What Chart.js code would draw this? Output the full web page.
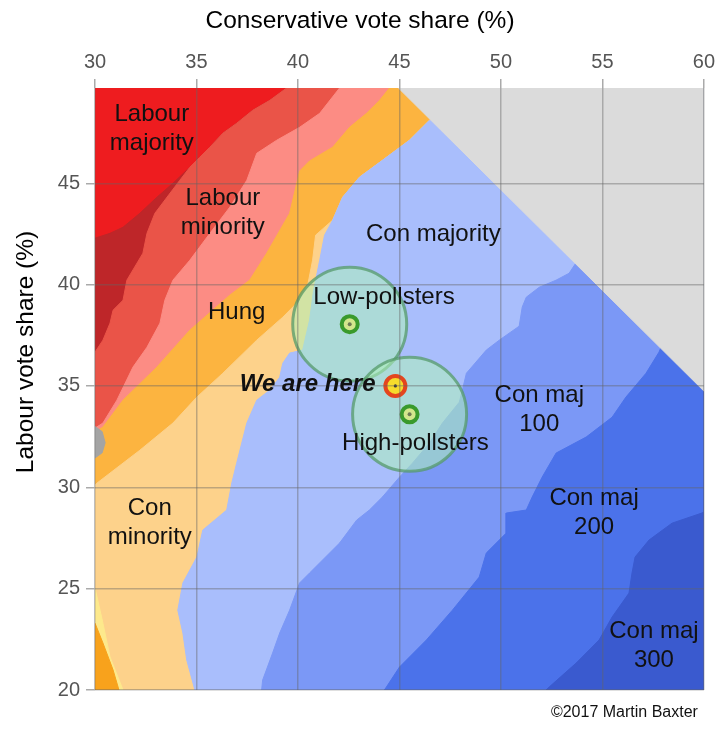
<!DOCTYPE html>
<html><head><meta charset="utf-8">
<script src="https://cdn.jsdelivr.net/npm/chart.js@4/dist/chart.umd.min.js"></script>
<style>html,body{margin:0;padding:0;background:#fff}#wrap{width:720px;height:729px;position:relative}</style>
</head><body><div id="wrap"><canvas id="c"></canvas></div>
<script>
const FONT = "'Liberation Sans', Arial, sans-serif";
const X_MIN = 30, X_MAX = 60, Y_MIN = 20, Y_MAX = 49.7;
const xTicks = [30, 35, 40, 45, 50, 55, 60];
const yTicks = [20, 25, 30, 35, 40, 45];

// Region boundaries: [Con %, Lab %]
const labMajEdge = [[39.44,49.7],[38.61,49.09],[37.77,48.60],[36.98,47.96],[36.30,47.47],[35.66,46.78],[35.16,46.28],[34.67,45.79],[33.84,45.00],[33.05,44.31],[32.21,43.52],[31.38,42.83],[30.74,42.53],[30,42.29]];
const darkRedEdge = [[39.44,49.7],[38.61,49.09],[37.77,48.60],[36.98,47.96],[36.30,47.47],[35.66,46.78],[35.16,46.28],[34.67,45.79],[34.18,45.15],[32.95,43.52],[32.56,42.53],[32.36,41.55],[31.57,40.22],[31.38,39.23],[30.89,38.74],[30.74,38.10],[30.39,37.26],[30,36.67]];
const coralEdge = [[42.05,49.7],[41.07,48.45],[40.08,47.76],[38.95,47.12],[37.97,46.48],[37.48,45.15],[36.64,43.82],[35.66,42.53],[34.67,41.20],[33.84,40.22],[33.44,39.23],[33.20,38.10],[32.56,36.91],[31.87,35.93],[31.08,34.30],[30.39,33.17],[30,32.92]];
const pinkEdge = [[44.51,49.7],[44.02,49.09],[43.38,48.45],[42.54,47.76],[41.71,46.78],[40.57,46.10],[40.08,45.60],[39.59,43.52],[38.46,41.55],[37.62,40.22],[36.64,39.48],[34.67,37.75],[33.05,35.93],[31.38,34.30],[30.39,32.97],[30,32.72]];
const hungEdge = [[46.48,48.11],[45.49,47.12],[44.16,46.13],[43.03,45.30],[42.20,44.31],[41.71,43.18],[40.87,42.44],[40.72,41.20],[40.48,39.97],[40.08,39.23],[39.25,38.39],[37.97,37.26],[36.30,35.63],[35.02,34.45],[33.84,33.17],[32.21,31.83],[30.10,30.21],[30,30.11]];
const conMinEdge = [[46.48,48.11],[45.49,47.12],[44.16,46.13],[43.03,45.30],[42.20,44.31],[41.71,43.18],[41.31,42.44],[41.07,41.20],[40.77,39.72],[40.57,38.24],[40.23,36.77],[39.59,36.62],[39.25,36.12],[39.10,35.43],[38.61,34.79],[37.97,34.30],[37.48,33.17],[37.23,32.18],[36.98,31.19],[36.74,30.21],[36.49,28.88],[35.31,27.89],[35.02,26.56],[34.33,25.28],[34.08,23.94],[34.33,22.81],[34.52,21.48],[34.92,20]];
const conMajEdge = [[53.85,41.30],[53.36,40.56],[52.72,40.22],[51.89,39.87],[51.25,39.38],[51.05,38.89],[50.90,37.95],[49.92,37.26],[49.28,36.77],[48.30,35.63],[48.10,34.79],[47.95,34.20],[47.12,33.17],[46.48,32.18],[45.64,31.19],[45.00,30.50],[44.16,29.52],[43.52,28.88],[42.89,28.38],[42.05,27.25],[40.57,25.77],[40.08,25.28],[39.59,23.94],[39.10,22.81],[38.75,21.82],[38.26,20.49],[38.21,20]];
const maj100Edge = [[58.03,37.26],[57.79,36.67],[57.15,35.63],[56.16,34.45],[55.48,33.46],[54.20,32.48],[52.72,31.69],[52.03,30.50],[51.54,29.52],[51.25,28.88],[50.26,28.73],[50.26,27.74],[49.28,26.76],[48.93,25.57],[47.61,23.94],[46.33,22.47],[45.00,21.13],[44.36,20.15],[44.26,20]];
const maj200Edge = [[60,28.78],[59.90,28.73],[58.43,28.23],[57.30,27.40],[56.61,26.56],[56.46,25.77],[56.31,24.78],[55.48,23.60],[54.84,22.47],[53.71,21.33],[52.38,20.15],[52.23,20]];
const yellowEdge = [[30,25.03],[30.39,23.30],[30.74,21.63],[31.38,20]];
const ldOrangeEdge = [[30,23.30],[30.39,22.32],[30.89,20.99],[31.18,20]];
const greyBlob = [[30,33.0],[30.35,32.75],[30.5,32.2],[30.35,31.7],[30,31.45]];
const impossibleEdge = [[44.95,49.7],[60,34.75]];

// Poll points
const pollsterNames = ['Low-pollsters', 'High-pollsters'];
const pollsterCon = [42.55, 45.5];
const pollsterLab = [38.05, 33.6];
const hereCon = [44.8];
const hereLab = [35.0];

const regionColors = {
  labMaj: '#ee1c1f', darkRed: '#be2629', coral: '#ea5448', pink: '#fc8c84', hung: '#fcb440',
  conMin: '#fdd28b', conMaj: '#a9befc', maj100: '#7b98f6', maj200: '#4b72ea', maj300: '#3a5acf',
  yellow: '#fde98c', dOrange: '#f8a21c', grey: '#a4a4a4', impossible: '#dbdbdb'
};

const toPts = e => e.map(([x, y]) => ({x, y}));
function lowerRight(edge) {
  const pts = toPts(edge);
  if (edge[edge.length - 1][0] === X_MIN) pts.push({x: X_MIN, y: Y_MIN});
  pts.push({x: X_MAX, y: Y_MIN}, {x: X_MAX, y: Y_MAX});
  return pts;
}
function lowerLeft(edge) { return toPts(edge).concat([{x: X_MIN, y: Y_MIN}]); }

const layers = [
  [regionColors.labMaj, [{x: X_MIN, y: Y_MIN}, {x: X_MIN, y: Y_MAX}, {x: X_MAX, y: Y_MAX}, {x: X_MAX, y: Y_MIN}]],
  [regionColors.darkRed, lowerRight(labMajEdge)],
  [regionColors.coral, lowerRight(darkRedEdge)],
  [regionColors.pink, lowerRight(coralEdge)],
  [regionColors.hung, lowerRight(pinkEdge)],
  [regionColors.conMin, lowerRight(hungEdge)],
  [regionColors.conMaj, lowerRight(conMinEdge)],
  [regionColors.maj100, lowerRight(conMajEdge)],
  [regionColors.maj200, lowerRight(maj100Edge)],
  [regionColors.maj300, lowerRight(maj200Edge)],
  [regionColors.yellow, lowerLeft(yellowEdge)],
  [regionColors.dOrange, lowerLeft(ldOrangeEdge)],
  [regionColors.grey, toPts(greyBlob)],
  [regionColors.impossible, toPts(impossibleEdge).concat([{x: X_MAX, y: Y_MAX}])]
];

const datasets = layers.map(([color, pts], i) => ({
  data: pts, showLine: true, fill: 'shape', backgroundColor: color, borderColor: color,
  borderWidth: 1, pointRadius: 0, tension: 0, order: 100 - i
}));
const pollPts = pollsterCon.map((x, i) => ({x, y: pollsterLab[i]}));
const herePts = hereCon.map((x, i) => ({x, y: hereLab[i]}));
datasets.push({data: pollPts, showLine: false, pointRadius: 57,
  pointBackgroundColor: 'rgba(175,240,185,0.55)', pointBorderColor: 'rgba(85,155,105,0.75)', pointBorderWidth: 3, order: 10});
datasets.push({data: pollPts, showLine: false, pointRadius: 8,
  pointBackgroundColor: '#d3e68c', pointBorderColor: '#3a9a2c', pointBorderWidth: 4, order: 8});
datasets.push({data: pollPts, showLine: false, pointRadius: 2,
  pointBackgroundColor: '#6f7a55', pointBorderWidth: 0, order: 7});
datasets.push({data: herePts, showLine: false, pointRadius: 10,
  pointBackgroundColor: '#f6dc2c', pointBorderColor: '#e4451e', pointBorderWidth: 4, order: 6});
datasets.push({data: herePts, showLine: false, pointRadius: 1.6,
  pointBackgroundColor: '#333', pointBorderWidth: 0, order: 5});

const annotations = [
  {lines: ['Labour', 'majority'], x: 32.80, y: 47.66},
  {lines: ['Labour', 'minority'], x: 36.30, y: 43.52},
  {lines: ['Hung'], x: 36.98, y: 38.64},
  {lines: ['Con majority'], x: 46.67, y: 42.49},
  {lines: [pollsterNames[0]], x: 44.24, y: 39.38},
  {lines: ['We are here'], x: 43.82, y: 35.09, align: 'right', style: 'italic bold '},
  {lines: [pollsterNames[1]], x: 45.79, y: 32.18},
  {lines: ['Con maj', '100'], x: 51.89, y: 33.83},
  {lines: ['Con', 'minority'], x: 32.70, y: 28.26},
  {lines: ['Con maj', '200'], x: 54.59, y: 28.73},
  {lines: ['Con maj', '300'], x: 57.54, y: 22.19}
];

const labelPlugin = {
  id: 'labels',
  afterDraw(chart) {
    const {ctx, scales: {x, y}, chartArea} = chart;
    ctx.save();
    ctx.fillStyle = '#111';
    ctx.textBaseline = 'middle';
    const lh = 29;
    for (const a of annotations) {
      ctx.font = (a.style || '') + '24px ' + FONT;
      ctx.textAlign = a.align || 'center';
      const px = x.getPixelForValue(a.x), py = y.getPixelForValue(a.y);
      const top = py - (a.lines.length - 1) * lh / 2;
      a.lines.forEach((t, i) => ctx.fillText(t, px, top + i * lh));
    }
    ctx.font = '16px ' + FONT;
    ctx.textAlign = 'right';
    ctx.fillStyle = '#111';
    ctx.fillText('\u00A92017 Martin Baxter', chartArea.right - 6, chartArea.bottom + 23);
    ctx.restore();
  }
};

const gridOpts = {color: 'rgba(100,100,100,0.42)', lineWidth: 1.5, tickLength: 9, tickColor: '#aaa', tickWidth: 1.5, z: 1};
const tickFont = {family: FONT, size: 20};

new Chart(document.getElementById('c'), {
  type: 'scatter',
  data: {datasets},
  plugins: [labelPlugin],
  options: {
    responsive: true, maintainAspectRatio: false, animation: false, events: [],
    layout: {autoPadding: false, padding: {top: 14, left: 15, right: 15, bottom: 39}},
    plugins: {
      legend: {display: false}, tooltip: {enabled: false},
      title: {display: true, text: 'Conservative vote share (%)', position: 'top', color: '#000',
        font: {family: FONT, size: 24.5, weight: 'normal', lineHeight: 14 / 24.5}, padding: 0},
      subtitle: {display: true, text: 'Labour vote share (%)', position: 'left', color: '#000',
        font: {family: FONT, size: 24.5, weight: 'normal', lineHeight: 22 / 24.5}, padding: 0}
    },
    scales: {
      x: {type: 'linear', position: 'top', min: X_MIN, max: X_MAX,
        afterBuildTicks: s => { s.ticks = xTicks.map(v => ({value: v})); },
        afterFit: s => { s.height = 60; },
        ticks: {font: tickFont, color: '#555', padding: 5, maxRotation: 0},
        grid: gridOpts, border: {display: false}},
      y: {type: 'linear', position: 'left', min: Y_MIN, max: Y_MAX,
        afterBuildTicks: s => { s.ticks = yTicks.map(v => ({value: v})); },
        afterFit: s => { s.width = 58; },
        ticks: {font: tickFont, color: '#555', padding: 6},
        grid: gridOpts, border: {display: false}}
    }
  }
});
</script>
</body></html>
